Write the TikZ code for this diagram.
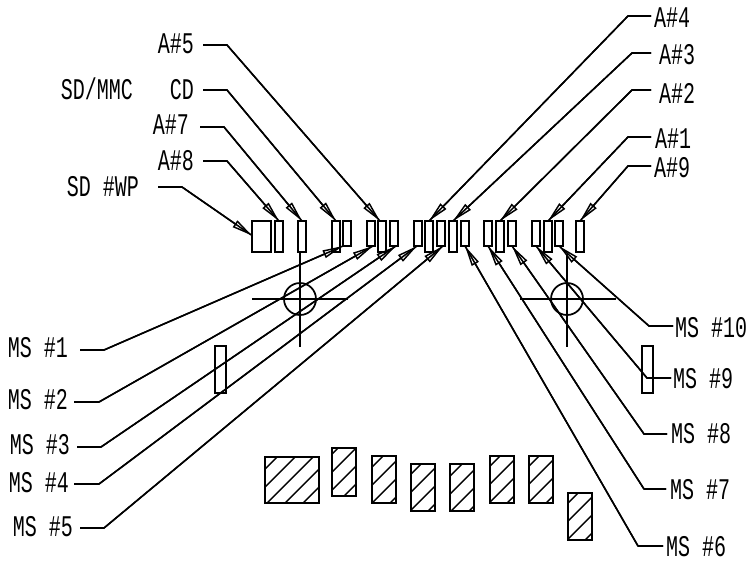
\documentclass[tikz,border=0pt]{standalone}
\usepackage{fontspec}
\setmainfont[FakeStretch=0.667]{Liberation Mono}
\usetikzlibrary{arrows.meta,calc}
\tikzset{
  plain box/.style={draw,line width=1.5pt,inner sep=0,outer sep=0,anchor=north west},
  tall/.style={plain box,minimum width=6pt,minimum height=23.25pt},
  short/.style={plain box,minimum width=6pt,minimum height=18.75pt},
  hatchbox/.style={plain box,minimum width=18pt,minimum height=35.25pt},
  wire/.style={line width=1.15pt,line join=round},
  lead/.style={wire,postaction={draw,-{Triangle[open,length=15.5pt,width=6pt,line width=1.1pt]}}},
  hat/.style={line width=1.05pt},
  axis/.style={line width=0.9pt},
  lab/.style={font=\fontsize{22.5pt}{22.5pt}\selectfont,inner sep=0,outer sep=0},
  labl/.style={lab,anchor=east},
  labr/.style={lab,anchor=west}
}
\newcommand{\hatchin}[3]{% node, offset from NW corner, number of lines
  \begin{scope}
    \clip (#1.north west) rectangle (#1.south east);
    \foreach \k in {1,...,#3}{
      \draw[hat] ($(#1.north west)+({(#2+18*(\k-1))*1},0)$) -- ++(-70,70);
    }
  \end{scope}
}
\begin{document}
\begin{tikzpicture}[x=0.75pt,y=-0.75pt]
\useasboundingbox (0,0) rectangle (753,565);
% upper rows
\node[plain box,minimum width=14.25pt,minimum height=23.25pt] (big) at (252,221) {};
\node[tall] (r2) at (275,221) {};
\node[tall] (r3) at (298,221) {};
\node[tall] (r4) at (332,221) {};
\node[short] (r5) at (343,221) {};
\node[short] (r6) at (367,221) {};
\node[tall] (r7) at (378,221) {};
\node[short] (r8) at (390,221) {};
\node[short] (r9) at (414,221) {};
\node[tall] (r10) at (425,221) {};
\node[short] (r11) at (437,221) {};
\node[tall] (r12) at (449,221) {};
\node[short] (r13) at (461,221) {};
\node[short] (r14) at (484,221) {};
\node[tall] (r15) at (496,221) {};
\node[short] (r16) at (508,221) {};
\node[short] (r17) at (532,221) {};
\node[tall] (r18) at (544,221) {};
\node[short] (r19) at (555,221) {};
\node[tall] (r20) at (576,221) {};
% side boxes
\node[plain box,minimum width=8.5pt,minimum height=35.25pt] (sl) at (215,346) {};
\node[plain box,minimum width=8.5pt,minimum height=35.25pt] (sr) at (642,346) {};
% circles and centre lines
\node[draw,circle,line width=1.3pt,minimum size=24pt,inner sep=0,outer sep=0] (cl) at (300,299) {};
\node[draw,circle,line width=1.3pt,minimum size=24pt,inner sep=0,outer sep=0] (cr) at (567,299) {};
\coordinate (clw) at (252,299); \coordinate (cle) at (348,299); \coordinate (cls) at (300,347);
\coordinate (crw) at (520,299); \coordinate (cre) at (616,299); \coordinate (crn) at (567,254); \coordinate (crs) at (567,347);
\draw[axis] (clw) -- (cle);
\draw[axis] (r3.south -| cl) -- (cls);
\draw[axis] (crw) -- (cre);
\draw[axis] (crn) -- (crs);
% hatched boxes
\node[plain box,minimum width=40.5pt,minimum height=34.5pt] (h1) at (265,457) {};
\node[hatchbox,minimum height=36pt] (h2) at (332,448) {};
\node[hatchbox] (h3) at (372,456) {};
\node[hatchbox] (h4) at (411,464) {};
\node[hatchbox] (h5) at (450,464) {};
\node[hatchbox] (h6) at (490,456) {};
\node[hatchbox] (h7) at (529,456) {};
\node[hatchbox] (h8) at (568,493) {};
\hatchin{h1}{12}{5}
\hatchin{h2}{6}{4}
\hatchin{h3}{11}{4}
\hatchin{h4}{10}{4}
\hatchin{h5}{12}{4}
\hatchin{h6}{10}{4}
\hatchin{h7}{10}{4}
\hatchin{h8}{10}{4}
% labels
\node[labl] (lA5) at (194,44) {A\#5};
\node[labl] (lCD) at (194,90) {CD};
\node[labl] (lSD) at (133,89) {SD/MMC};
\node[labl] (lA7) at (189,125) {A\#7};
\node[labl] (lA8) at (194,161) {A\#8};
\node[labl] (lWP) at (139,187) {SD \#WP};
\node[labr] (lA4) at (654,18) {A\#4};
\node[labr] (lA3) at (659,55) {A\#3};
\node[labr] (lA2) at (659,93) {A\#2};
\node[labr] (lA1) at (655,139) {A\#1};
\node[labr] (lA9) at (654,168) {A\#9};
\node[labl] (m1) at (68,348) {MS \#1};
\node[labl] (m2) at (68,400) {MS \#2};
\node[labl] (m3) at (70,445) {MS \#3};
\node[labl] (m4) at (69,483) {MS \#4};
\node[labl] (m5) at (73,527) {MS \#5};
\node[labr] (m10) at (675,328) {MS \#10};
\node[labr] (m9) at (673,379) {MS \#9};
\node[labr] (m8) at (671,434) {MS \#8};
\node[labr] (m7) at (670,490) {MS \#7};
\node[labr] (m6) at (666,547) {MS \#6};
% leaders
\draw[lead] ($(lA5.east)+(9,1)$) -- ++(24,0) -- ($(r7.north)+(-2,0)$);
\draw[lead] ($(lCD.east)+(9,0)$) -- ++(24,0) -- (r4.north);
\draw[lead] ($(lA7.east)+(11,2)$) -- ++(24,0) -- (r3.north);
\draw[lead] ($(lA8.east)+(9,0)$) -- ++(24,0) -- (r2.north);
\draw[lead] ($(lWP.east)+(19,0)$) -- ++(24,0) -- ($(big.west)+(0,-1)$);
\draw[lead] ($(lA4.west)+(-3,-2)$) -- ++(-23,0) -- (r10.north);
\draw[lead] ($(lA3.west)+(-8,-2)$) -- ++(-19,0) -- (r12.north);
\draw[lead] ($(lA2.west)+(-8,-3)$) -- ++(-19,0) -- (r15.north);
\draw[lead] ($(lA1.west)+(-4,-2)$) -- ++(-23,0) -- (r18.north);
\draw[lead] ($(lA9.west)+(-3,-2)$) -- ++(-23,0) -- (r20.north);
\draw[lead] ($(m1.east)+(12,2)$) -- ++(24,0) -- (r5.south west);
\draw[lead] ($(m2.east)+(6,2)$) -- ++(25,0) -- ($(r6.south)+(2,0)$);
\draw[lead] ($(m3.east)+(7,2)$) -- ++(24,0) -- ($(r8.south)+(2,0)$);
\draw[lead] ($(m4.east)+(5,1)$) -- ++(25,0) -- ($(r9.south)+(-1,0)$);
\draw[lead] ($(m5.east)+(7,1)$) -- ++(24,0) -- ($(r11.south)+(2,0)$);
\draw[lead] ($(m10.west)+(-2,-2)$) -- ++(-24,0) -- (r19.south);
\draw[lead] ($(m9.west)+(-2,-1)$) -- ++(-24,0) -- (r17.south);
\draw[lead] ($(m8.west)+(-4,0)$) -- ++(-23,0) -- (r16.south);
\draw[lead] ($(m7.west)+(-4,-1)$) -- ++(-22,0) -- (r14.south);
\draw[lead] ($(m6.west)+(-3,-1)$) -- ++(-25,0) -- (r13.south);
\end{tikzpicture}
\end{document}
